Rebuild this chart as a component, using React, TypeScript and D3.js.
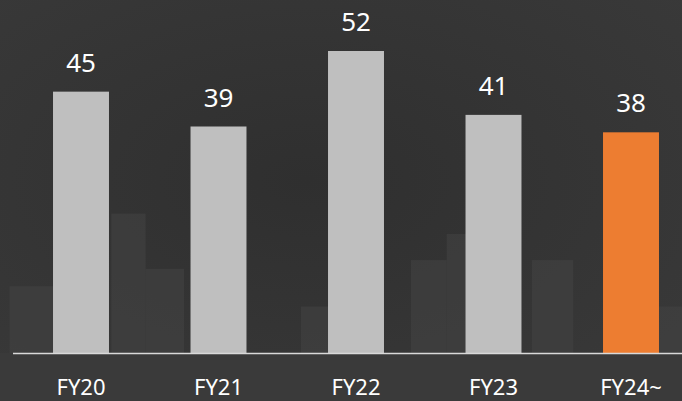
import React, { useRef, useEffect } from "react";
import * as d3 from "d3";

const width = 682;
const height = 401;

// chart data
const categories = ["FY20", "FY21", "FY22", "FY23", "FY24~"];
const values = [45, 39, 52, 41, 38];
const barColors = ["#bfbfbf", "#bfbfbf", "#bfbfbf", "#bfbfbf", "#ed7d31"];

// faint backdrop columns (decoration behind the chart), in slot units / value units
const backdropFrom = [-0.02, 0.72, 0.97, 2.1, 2.9, 3.16, 3.78, 4.55];
const backdropTo = [0.3, 0.97, 1.25, 2.3, 3.16, 3.3, 4.08, 5.0];
const backdropVals = [11.5, 24, 14.5, 8, 16, 20.5, 16, 8];

export default function App() {
  const svgRef = useRef<SVGSVGElement>(null);

  useEffect(() => {
    if (!svgRef.current) return;
    const svg = d3.select(svgRef.current);
    svg.selectAll("*").remove();

    const baseY = 353;
    const x = d3
      .scaleBand<string>()
      .domain(categories)
      .range([12.25, 699.75])
      .paddingInner(0.593)
      .paddingOuter(0.2965);
    const y = d3.scaleLinear().domain([0, 52]).range([baseY, 51]);
    const slot = d3.scaleLinear().domain([0, 5]).range([12.25, 699.75]);

    // background
    const defs = svg.append("defs");
    const grad = defs
      .append("radialGradient")
      .attr("id", "bg")
      .attr("cx", "0.45")
      .attr("cy", "0.45")
      .attr("r", "0.8");
    grad.append("stop").attr("offset", "0%").attr("stop-color", "#2f2f2f");
    grad.append("stop").attr("offset", "100%").attr("stop-color", "#3a3a3a");

    svg.append("rect").attr("width", width).attr("height", height).attr("fill", "url(#bg)");

    // faint backdrop shapes
    svg
      .append("g")
      .selectAll("rect")
      .data(backdropVals)
      .join("rect")
      .attr("x", (d, i) => slot(backdropFrom[i]))
      .attr("width", (d, i) => slot(backdropTo[i]) - slot(backdropFrom[i]))
      .attr("y", (d) => y(d))
      .attr("height", (d) => baseY - y(d))
      .attr("fill", "#444")
      .attr("opacity", 0.55);

    svg
      .append("rect")
      .attr("x", 0)
      .attr("y", baseY)
      .attr("width", width)
      .attr("height", height - baseY)
      .attr("fill", "#3a3a3a");

    // bars
    svg
      .append("g")
      .selectAll("rect")
      .data(values)
      .join("rect")
      .attr("x", (d, i) => x(categories[i])!)
      .attr("width", x.bandwidth())
      .attr("y", (d) => y(d))
      .attr("height", (d) => baseY - y(d))
      .attr("fill", (d, i) => barColors[i]);

    // baseline
    svg
      .append("line")
      .attr("x1", 13)
      .attr("x2", width)
      .attr("y1", baseY + 0.5)
      .attr("y2", baseY + 0.5)
      .attr("stroke", "#d9d9d9")
      .attr("stroke-width", 1.6);

    // value labels
    svg
      .append("g")
      .selectAll("text")
      .data(values)
      .join("text")
      .attr("x", (d, i) => x(categories[i])! + x.bandwidth() / 2)
      .attr("y", (d) => y(d) - 20)
      .attr("text-anchor", "middle")
      .attr("fill", "#ffffff")
      .style("font-family", "'Noto Sans', 'Open Sans', sans-serif")
      .style("font-size", "26px")
      .text((d) => d);

    // category labels
    svg
      .append("g")
      .selectAll("text")
      .data(categories)
      .join("text")
      .attr("x", (d) => x(d)! + x.bandwidth() / 2)
      .attr("y", 395)
      .attr("text-anchor", "middle")
      .attr("fill", "#ffffff")
      .style("font-family", "'Noto Sans', 'Open Sans', sans-serif")
      .style("font-size", "22px")
      .text((d) => d);
  }, []);

  return (
    <>
      <style>{"body{margin:0;background:#333}"}</style>
      <svg ref={svgRef} width={width} height={height} style={{ display: "block" }} />
    </>
  );
}
